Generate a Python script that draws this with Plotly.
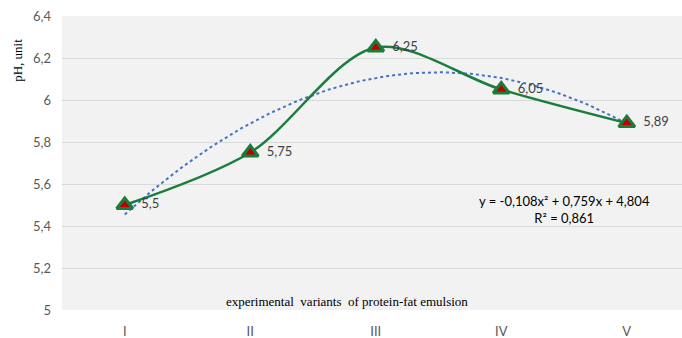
import numpy as np
import plotly.graph_objects as go

# Emulsion variants and measured pH
variants = ["I", "II", "III", "IV", "V"]
ph_values = [5.5, 5.75, 6.25, 6.05, 5.89]
ph_labels = ["5,5", "5,75", "6,25", "6,05", "5,89"]
y_ticks = [5.0, 5.2, 5.4, 5.6, 5.8, 6.0, 6.2, 6.4]

# Second-order polynomial trend through the measurements
idx = np.arange(1, len(ph_values) + 1)
coef = np.polyfit(idx, ph_values, 2)
x_fine = np.linspace(1, len(ph_values), 120)
trend = np.polyval(coef, x_fine)

GREEN = "#1b7d3c"
pad = "\u00a0\u00a0"

fig = go.Figure()

fig.add_trace(go.Scatter(
    x=x_fine - 1, y=trend, mode="lines",
    line=dict(color="#4472c4", width=2, dash="dot"),
    hoverinfo="skip", showlegend=False,
))

fig.add_trace(go.Scatter(
    x=list(range(len(variants))), y=ph_values,
    mode="lines+markers+text",
    line=dict(color=GREEN, width=2.5, shape="spline", smoothing=0.9),
    marker=dict(symbol="triangle-up", size=14, color="#c00000",
                line=dict(color=GREEN, width=3)),
    text=[pad + t for t in ph_labels], textposition="middle right",
    textfont=dict(family="Lato, Open Sans, sans-serif", size=13, color="#404040"),
    showlegend=False,
))

fig.update_layout(
    width=682, height=338,
    margin=dict(l=62, r=0, t=16, b=28),
    paper_bgcolor="white", plot_bgcolor="#f2f2f2",
    separators=",.",
    font=dict(family="Lato, Open Sans, sans-serif", size=13, color="#595959"),
    xaxis=dict(
        tickmode="array", tickvals=list(range(len(variants))), ticktext=variants,
        range=[-0.5, 4.44], showgrid=False, zeroline=False, showline=False,
        ticks="", ticklabelstandoff=12, automargin=False,
    ),
    yaxis=dict(
        tickmode="array", tickvals=y_ticks, range=[5.0, 6.4],
        showgrid=True, gridcolor="#d9d9d9", gridwidth=1,
        zeroline=False, showline=False, ticks="", ticklabelstandoff=10,
        automargin=False,
    ),
    annotations=[
        dict(text="pH, unit", xref="paper", yref="paper", x=-0.073, y=0.85,
             xanchor="center", yanchor="middle",
             textangle=-90, showarrow=False,
             font=dict(family="Liberation Serif, DejaVu Serif, serif", size=13, color="#000000")),
        dict(text="experimental  variants  of protein-fat emulsion",
             xref="x", yref="y", x=1.77, y=5.04, showarrow=False,
             font=dict(family="Liberation Serif, DejaVu Serif, serif", size=13, color="#000000")),
        dict(text="y = -0,108x² + 0,759x + 4,804<br>R² = 0,861",
             xref="x", yref="y", x=3.5, y=5.48, showarrow=False,
             font=dict(family="Lato, Open Sans, sans-serif", size=13, color="#000000")),
    ],
)

fig.write_html("out.html")
